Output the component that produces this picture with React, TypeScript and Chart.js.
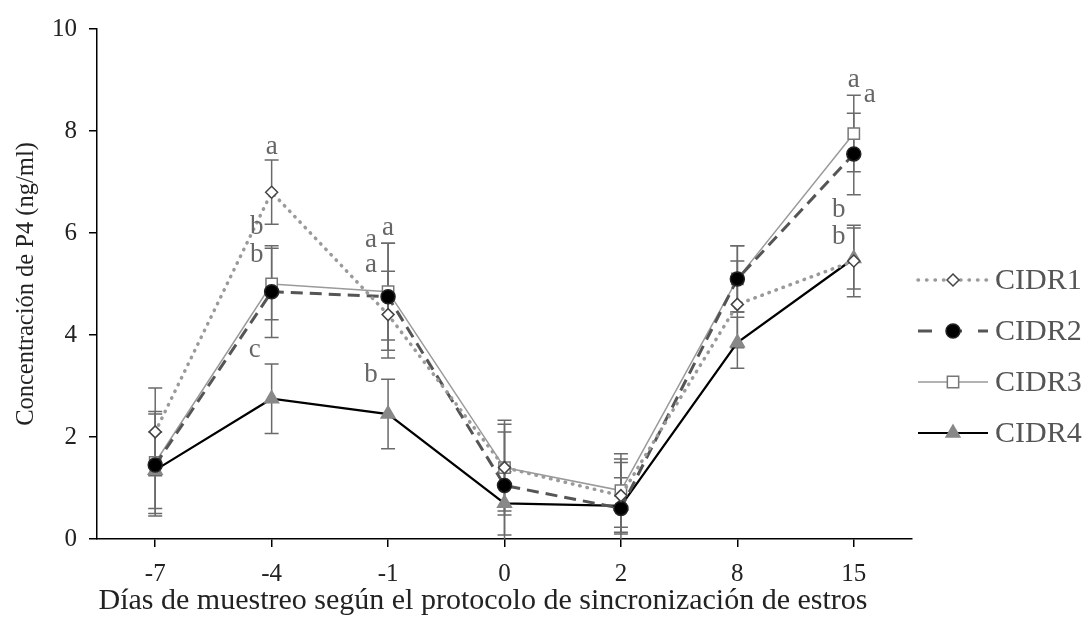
import React, { useEffect, useRef } from 'react';
import { Chart, registerables } from 'chart.js';
Chart.register(...registerables);

const labels = ['-7', '-4', '-1', '0', '2', '8', '15'];
const seriesNames = ['CIDR1', 'CIDR2', 'CIDR3', 'CIDR4'];
const cidr1 = [2.1, 6.8, 4.4, 1.4, 0.85, 4.6, 5.45];
const cidr2 = [1.45, 4.85, 4.75, 1.05, 0.6, 5.1, 7.55];
const cidr3 = [1.5, 5.0, 4.85, 1.4, 0.95, 5.1, 7.95];
const cidr4 = [1.35, 2.75, 2.45, 0.7, 0.65, 3.85, 5.5];
const err1 = [0.86, 0.63, 0.85, 0.85, 0.72, 0.85, 0.7];
const err2 = [1.0, 0.9, 1.05, 1.05, 0.9, 0.65, 0.8];
const err3 = [1.0, 0.7, 0.95, 0.93, 0.72, 0.65, 0.75];
const err4 = [0.75, 0.68, 0.68, 0.62, 0.55, 0.5, 0.6];
const yTicks = [0, 2, 4, 6, 8, 10];
// significance letters: category, value, horizontal offset (px), text
const letterCats = ['-4', '-4', '-4', '-4', '-1', '-1', '-1', '-1', '15', '15', '15', '15'];
const letterVals = [7.69, 6.12, 5.57, 3.7, 6.1, 5.86, 5.37, 3.22, 9.0, 8.7, 6.45, 5.92];
const letterDx = [0, -15, -15, -17, 0, -17, -17, -17, 0, 16, -15, -15];
const letterText = ['a', 'b', 'b', 'c', 'a', 'a', 'a', 'b', 'a', 'a', 'b', 'b'];

const yTitle = 'Concentración de P4 (ng/ml)';
const xTitle = 'Días de muestreo según el protocolo de sincronización de estros';
const FONT = '"Liberation Serif", "Times New Roman", serif';

const styles = [
  { color: '#9a9a9a', width: 3.5, dash: [0.5, 7], cap: 'round', point: 'rectRot', radius: 6, pFill: '#ffffff', pBorder: '#444444' },
  { color: '#555555', width: 3, dash: [12, 7], cap: 'butt', point: 'circle', radius: 7, pFill: '#000000', pBorder: '#222222' },
  { color: '#9a9a9a', width: 1.5, dash: [], cap: 'butt', point: 'rect', radius: 8, pFill: '#ffffff', pBorder: '#777777' },
  { color: '#000000', width: 2.2, dash: [], cap: 'butt', point: 'triangle', radius: 8, pFill: '#888888', pBorder: '#888888' },
];
const legendDash = [[0.5, 8], [14, 16], [], []];
const allData = [cidr1, cidr2, cidr3, cidr4];
const allErr = [err1, err2, err3, err4];

function drawMarker(ctx: CanvasRenderingContext2D, s: any, x: number, y: number) {
  const r = s.radius;
  ctx.save();
  ctx.lineWidth = 1.5;
  ctx.strokeStyle = s.pBorder;
  ctx.fillStyle = s.pFill;
  ctx.beginPath();
  if (s.point === 'circle') {
    ctx.arc(x, y, r, 0, Math.PI * 2);
  } else if (s.point === 'rect') {
    const h = r * Math.SQRT1_2;
    ctx.rect(x - h, y - h, 2 * h, 2 * h);
  } else if (s.point === 'rectRot') {
    ctx.moveTo(x, y - r); ctx.lineTo(x + r, y); ctx.lineTo(x, y + r); ctx.lineTo(x - r, y); ctx.closePath();
  } else if (s.point === 'triangle') {
    ctx.moveTo(x, y - r);
    ctx.lineTo(x + r * 0.866, y + r * 0.5);
    ctx.lineTo(x - r * 0.866, y + r * 0.5);
    ctx.closePath();
  }
  ctx.fill();
  ctx.stroke();
  ctx.restore();
}

const extras = {
  id: 'extras',
  beforeDatasetsDraw(chart: any) {
    const { ctx, scales } = chart;
    const x = scales.x, y = scales.y;
    ctx.save();
    ctx.strokeStyle = '#6a6a6a';
    ctx.lineWidth = 1.5;
    allData.forEach((d, i) => {
      d.forEach((v, j) => {
        const e = allErr[i][j];
        const px = x.getPixelForValue(j);
        const top = y.getPixelForValue(v + e);
        const bot = y.getPixelForValue(Math.max(0, v - e));
        ctx.beginPath();
        ctx.moveTo(px, top); ctx.lineTo(px, bot);
        ctx.moveTo(px - 7, top); ctx.lineTo(px + 7, top);
        if (v - e > 0) { ctx.moveTo(px - 7, bot); ctx.lineTo(px + 7, bot); }
        ctx.stroke();
      });
    });
    ctx.restore();
  },
  afterDraw(chart: any) {
    const { ctx, scales } = chart;
    const x = scales.x, y = scales.y;
    ctx.save();
    // letters
    ctx.font = `27px ${FONT}`;
    ctx.fillStyle = '#666666';
    ctx.textAlign = 'center';
    ctx.textBaseline = 'middle';
    letterText.forEach((t, k) => {
      const px = x.getPixelForValue(labels.indexOf(letterCats[k])) + letterDx[k];
      const py = y.getPixelForValue(letterVals[k]);
      ctx.fillText(t, px, py);
    });
    // legend
    const lx0 = 918, lx1 = 988, ly0 = 280, lstep = 51;
    seriesNames.forEach((name, i) => {
      const s = styles[i];
      const ly = ly0 + i * lstep;
      ctx.save();
      ctx.strokeStyle = s.color;
      ctx.lineWidth = s.width;
      ctx.setLineDash(legendDash[i]);
      ctx.lineCap = s.cap as CanvasLineCap;
      ctx.beginPath();
      ctx.moveTo(lx0, ly); ctx.lineTo(lx1, ly);
      ctx.stroke();
      ctx.restore();
      drawMarker(ctx, s, (lx0 + lx1) / 2, ly);
      ctx.fillStyle = '#555555';
      ctx.font = `30px ${FONT}`;
      ctx.textAlign = 'left';
      ctx.textBaseline = 'middle';
      ctx.fillText(name, 995, ly + 1);
    });
    // axis titles
    ctx.fillStyle = '#222222';
    ctx.font = `30px ${FONT}`;
    ctx.textAlign = 'center';
    ctx.textBaseline = 'middle';
    ctx.fillText(xTitle, 483, 601);
    ctx.save();
    ctx.font = `24.5px ${FONT}`;
    ctx.translate(27, (chart.chartArea.top + chart.chartArea.bottom) / 2);
    ctx.rotate(-Math.PI / 2);
    ctx.fillText(yTitle, 0, 0);
    ctx.restore();
    ctx.restore();
  },
};

export default function App() {
  const ref = useRef<HTMLCanvasElement>(null);
  useEffect(() => {
    if (!ref.current) return;
    const chart = new Chart(ref.current, {
      type: 'line',
      data: {
        labels,
        datasets: allData.map((d, i) => ({
          label: seriesNames[i],
          data: d,
          borderColor: styles[i].color,
          borderWidth: styles[i].width,
          borderDash: styles[i].dash,
          borderCapStyle: styles[i].cap as any,
          pointStyle: styles[i].point as any,
          pointRadius: styles[i].radius,
          pointBackgroundColor: styles[i].pFill,
          pointBorderColor: styles[i].pBorder,
          pointBorderWidth: 1.5,
          tension: 0,
          fill: false,
        })),
      },
      options: {
        animation: false,
        responsive: true,
        maintainAspectRatio: false,
        layout: { padding: { top: 29, right: 177, left: 0, bottom: 0 } },
        plugins: { legend: { display: false }, tooltip: { enabled: false } },
        scales: {
          x: {
            type: 'category',
            offset: true,
            grid: { display: true, drawOnChartArea: false, drawTicks: true, tickLength: 8, color: '#000', lineWidth: 1.5 },
            border: { display: true, color: '#000', width: 1.5 },
            ticks: { color: '#222', font: { family: FONT, size: 25 }, padding: 12 },
            afterFit: (s: any) => { s.height = 92; },
          },
          y: {
            min: 0,
            max: 10,
            afterBuildTicks: (s: any) => { s.ticks = yTicks.map((v) => ({ value: v })); },
            grid: { display: true, drawOnChartArea: false, drawTicks: true, tickLength: 8, color: '#000', lineWidth: 1.5 },
            border: { display: true, color: '#000', width: 1.5 },
            ticks: { color: '#222', font: { family: FONT, size: 25 }, padding: 12 },
            afterFit: (s: any) => { s.width = 97; },
          },
        },
      },
      plugins: [extras],
    });
    return () => chart.destroy();
  }, []);
  return (
    <div style={{ position: 'fixed', left: 0, top: 0, width: 1089, height: 631, background: '#fff' }}>
      <canvas ref={ref} />
    </div>
  );
}
